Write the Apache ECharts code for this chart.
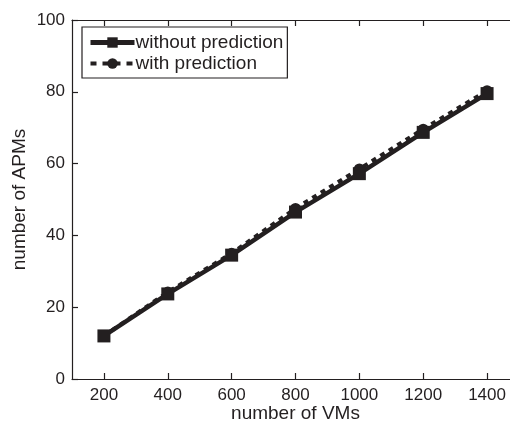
<!DOCTYPE html>
<html>
<head>
<meta charset="utf-8">
<script src="https://cdn.jsdelivr.net/npm/echarts@6/dist/echarts.min.js"></script>
<style>
  html, body { margin: 0; padding: 0; background: #fff; }
  #e1 { width: 510px; height: 423px; }
</style>
</head>
<body>
<div id="e1"></div>
<script>
// values
var vms = [200, 400, 600, 800, 1000, 1200, 1400];
var withoutPrediction = [12, 23.7, 34.5, 46.5, 57.2, 68.7, 79.5];
var withPrediction = [12, 24.2, 35, 47.5, 58.5, 69.6, 80.3];
var xTicks = [200, 400, 600, 800, 1000, 1200, 1400];

function pairs(xs, ys) {
	var out = [];
	for (var i = 0; i < xs.length; i++) out.push([xs[i], ys[i]]);
	return out;
}

var font = 'Liberation Sans, Arial, sans-serif';
var ink = '#231f20';

var chart = echarts.init(document.getElementById('e1'));
chart.setOption({
	animation: false,
	grid: { left: 72, right: -9, top: 20, bottom: 44, outerBoundsMode: 'none', containLabel: false },
	legend: {
		left: 82, top: 27,
		orient: 'vertical',
		padding: [6, 4, 5, 6],
		itemGap: 2,
		itemWidth: 44, itemHeight: 13,
		borderColor: ink, borderWidth: 1.2, borderRadius: 0,
		textStyle: { fontFamily: font, fontSize: 19, color: ink, padding: [0, 0, 0, -4] },
		data: [
			{ name: 'without prediction', lineStyle: { width: 5, type: 'solid' } },
			{ name: 'with prediction', lineStyle: { width: 4, type: [6, 6] } }
		]
	},
	xAxis: [{
		type: 'value', min: 100, max: 1500,
		name: 'number of VMs', nameLocation: 'middle', nameGap: 25, nameMoveOverlap: false,
		nameTextStyle: { fontFamily: font, fontSize: 19, color: ink },
		axisLine: { lineStyle: { color: ink, width: 1.2 } },
		axisTick: { show: true, inside: true, length: 6, lineStyle: { color: ink, width: 1.2 },
			customValues: xTicks },
		axisLabel: { fontFamily: font, fontSize: 17, color: ink, margin: 8,
			customValues: xTicks, formatter: function (v) { return String(v); } },
		splitLine: { show: false }
	}, {
		type: 'value', min: 100, max: 1500, position: 'top',
		axisLine: { lineStyle: { color: ink, width: 1.2 } },
		axisTick: { show: true, inside: true, length: 6, lineStyle: { color: ink, width: 1.2 },
			customValues: xTicks },
		axisLabel: { show: false },
		splitLine: { show: false }
	}],
	yAxis: {
		type: 'value', min: 0, max: 100, interval: 20,
		name: 'number of APMs', nameLocation: 'middle', nameGap: 43, nameMoveOverlap: false,
		nameTextStyle: { fontFamily: font, fontSize: 19, color: ink },
		axisLine: { show: true, lineStyle: { color: ink, width: 1.2 } },
		axisTick: { show: true, inside: true, length: 6, lineStyle: { color: ink, width: 1.2 } },
		axisLabel: { fontFamily: font, fontSize: 17, color: ink, margin: 7 },
		splitLine: { show: false }
	},
	series: [{
		name: 'without prediction',
		type: 'line',
		data: pairs(vms, withoutPrediction),
		symbol: 'rect', symbolSize: 13,
		itemStyle: { color: ink },
		lineStyle: { color: ink, width: 4.5 },
		z: 3
	}, {
		name: 'with prediction',
		type: 'line',
		data: pairs(vms, withPrediction),
		symbol: 'circle', symbolSize: 11,
		itemStyle: { color: ink },
		lineStyle: { color: ink, width: 4, type: [5, 5] },
		z: 2
	}]
});
</script>
</body>
</html>
